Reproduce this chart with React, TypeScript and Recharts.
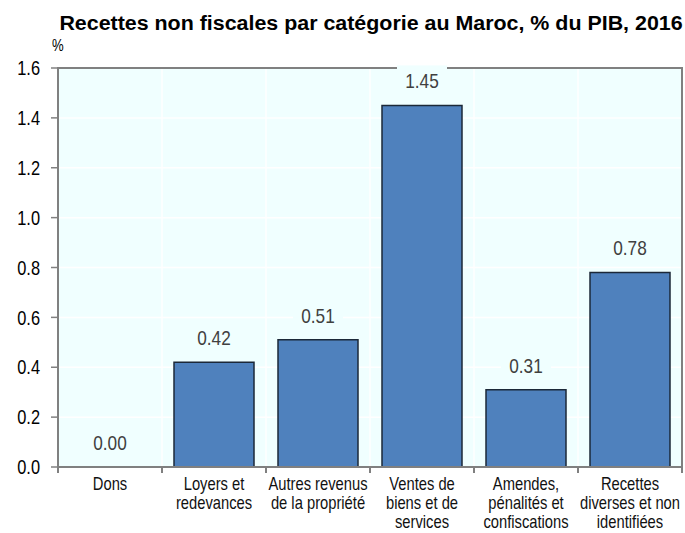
import React from "react";
import { ComposedChart, Bar, Scatter, XAxis, YAxis, CartesianGrid, ReferenceArea } from "recharts";

// --- data ---
const categories = [
    "Dons",
    "Loyers et\nredevances",
    "Autres revenus\nde la propriété",
    "Ventes de\nbiens et de\nservices",
    "Amendes,\npénalités et\nconfiscations",
    "Recettes\ndiverses et non\nidentifiées",
];
const values = [0.0, 0.42, 0.51, 1.45, 0.31, 0.78];
const yTicks = [0, 0.2, 0.4, 0.6, 0.8, 1.0, 1.2, 1.4, 1.6];

const data = categories.map((name, i) => ({ name, value: values[i] }));

// --- look ---
const W = 685;
const H = 533;
const Y_AXIS_W = 58;
const RIGHT = 3;
const BAND = (W - Y_AXIS_W - RIGHT) / categories.length;
const BG = "#F0FFFF";
const AXIS = "#808080";
const FONT = "Arial, 'Liberation Sans', sans-serif";
// pas de police étroite installée : on compresse horizontalement
const NARROW = 0.82;

const XTick = ({ x, y, payload, index }: any) => {
    const lines = String(payload.value).split("\n");
    const left = x - BAND / 2;
    return (
        <g>
            <line x1={left} x2={left} y1={y} y2={y + 6} stroke={AXIS} strokeWidth={2} />
            {index === categories.length - 1 && (
                <line x1={x + BAND / 2} x2={x + BAND / 2} y1={y} y2={y + 6} stroke={AXIS} strokeWidth={2} />
            )}
            <text
                transform={`translate(${x},${y + 22.5}) scale(${NARROW},1)`}
                textAnchor="middle"
                fill="#111"
                fontSize={18}
                fontFamily={FONT}
            >
                {lines.map((l, i) => (
                    <tspan key={i} x={0} dy={i === 0 ? 0 : 19.5}>{l}</tspan>
                ))}
            </text>
        </g>
    );
};

const YTick = ({ x, y, payload }: any) => (
    <text
        transform={`translate(${x},${y}) scale(${NARROW},1)`}
        textAnchor="end"
        dy="0.36em"
        fill="#000"
        fontSize={20}
        fontFamily={FONT}
    >
        {Number(payload.value).toFixed(1)}
    </text>
);

// étiquette de valeur avec son fond, posée au-dessus du sommet de la barre
const ValueLabel = ({ cx, cy, payload }: any) => {
    const base = cy - 17;
    return (
        <g>
            <rect x={cx - 25} y={base - 23} width={50} height={29} fill={BG} />
            <text
                transform={`translate(${cx},${base}) scale(${NARROW},1)`}
                textAnchor="middle"
                fill="#404040"
                fontSize={21}
                fontFamily={FONT}
            >
                {Number(payload.value).toFixed(2)}
            </text>
        </g>
    );
};

export default function App() {
    return (
        <div style={{ position: "absolute", left: 0, top: 0, width: W, height: H, background: "#fff" }}>
            <div style={{
                position: "absolute", left: 0, top: 12, width: 742, textAlign: "center",
                fontFamily: FONT, fontWeight: "bold", fontSize: 20, lineHeight: "22px",
                color: "#000", whiteSpace: "nowrap", transform: "scaleX(1.07)", transformOrigin: "371px 0",
            }}>
                Recettes non fiscales par catégorie au Maroc, % du PIB, 2016
            </div>
            <div style={{
                position: "absolute", left: 52, top: 37, fontFamily: FONT, fontSize: 16,
                lineHeight: "18px", color: "#000", transform: `scaleX(${NARROW})`, transformOrigin: "0 0",
            }}>
                %
            </div>
            <ComposedChart
                width={W}
                height={H}
                data={data}
                margin={{ top: 68, right: RIGHT, bottom: 0, left: 0 }}
                barCategoryGap={12}
            >
                <CartesianGrid
                    fill={BG}
                    stroke="#FFFFFF"
                    strokeWidth={1.5}
                    horizontalValues={yTicks}
                    verticalCoordinatesGenerator={({ offset }: any) =>
                        categories.map((_, i) => offset.left + (i * offset.width) / categories.length)
                    }
                />
                <XAxis
                    dataKey="name"
                    height={66}
                    interval={0}
                    axisLine={{ stroke: AXIS, strokeWidth: 2 }}
                    tickLine={false}
                    tickSize={0}
                    tickMargin={0}
                    tick={<XTick />}
                />
                <YAxis
                    width={Y_AXIS_W}
                    domain={[0, 1.6]}
                    ticks={yTicks}
                    interval={0}
                    axisLine={{ stroke: AXIS, strokeWidth: 2 }}
                    tickLine={{ stroke: AXIS, strokeWidth: 1.5 }}
                    tickSize={7}
                    tickMargin={11}
                    tick={<YTick />}
                />
                <ReferenceArea y1={0} y2={1.6} fill="none" stroke={AXIS} strokeWidth={2} ifOverflow="visible" />
                <Bar
                    dataKey="value"
                    fill="#4F81BD"
                    stroke="#1B2838"
                    strokeWidth={1.5}
                    isAnimationActive={false}
                />
                <Scatter dataKey="value" shape={<ValueLabel />} isAnimationActive={false} />
            </ComposedChart>
        </div>
    );
}
